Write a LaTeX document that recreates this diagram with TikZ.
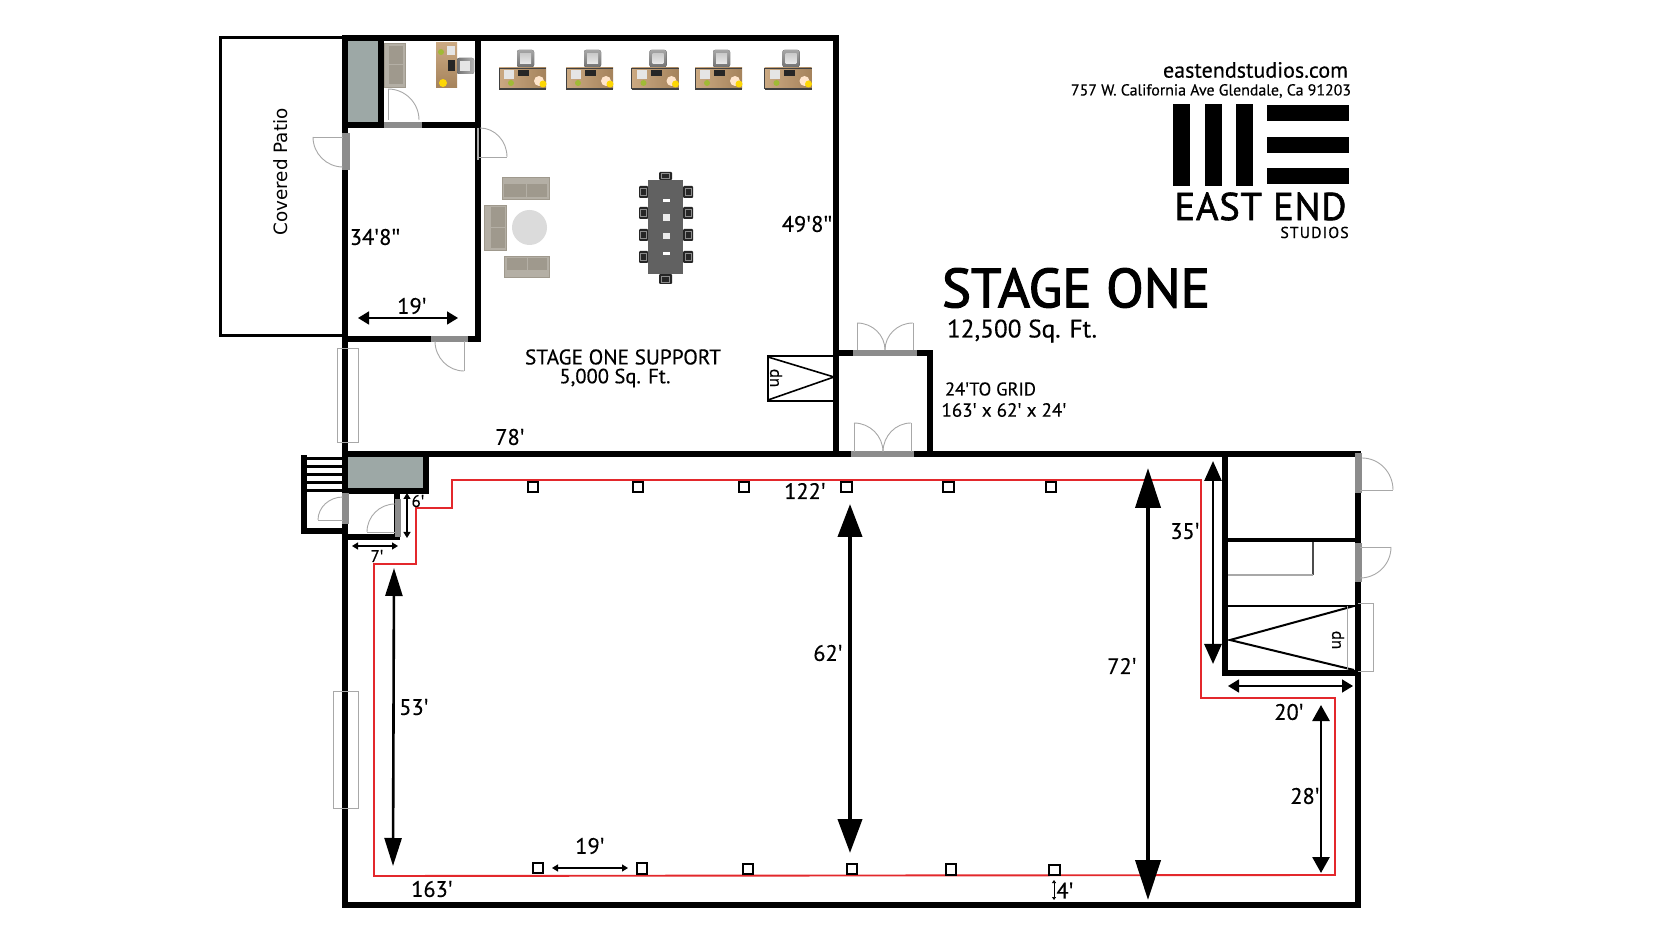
\documentclass[tikz,border=0pt]{standalone}
\usepackage{fontspec}
\usepackage{graphicx}
\setmainfont[FakeBold=0.35]{PT Sans}
\newfontfamily\patiofont{DejaVu Sans}
\newfontfamily\titlefont[FakeBold=2.2]{PT Sans}
\newfontfamily\primefont[FakeBold=0.2]{Open Sans}
\newfontfamily\logofont[LetterSpace=2,FakeBold=1.6]{PT Sans}
\newfontfamily\logosmall[LetterSpace=7,FakeBold=0.8]{PT Sans}
\newcommand\pr{{\primefont ′}}
\newcommand\ppr{{\primefont ″}}
\usetikzlibrary{calc,arrows.meta}
\definecolor{wallgrey}{HTML}{9DA8A6}
\definecolor{sillgrey}{HTML}{8C8C8C}
\definecolor{leafgrey}{HTML}{A8A8A8}
\definecolor{redline}{HTML}{E3282C}
\definecolor{deskc}{HTML}{C29A6C}
\definecolor{couchA}{HTML}{B4AFA5}
\definecolor{couchB}{HTML}{9F998D}
\newcommand\qarc[3]{\draw[doorline] (#1) .. controls ($(#1)!.552!(#3)$) and ($(#2)!.552!(#3)$) .. (#2);}
\newcommand\fitw[2]{\resizebox{\dimexpr#1pt/2\relax}{!}{#2}}
\newcommand\couch[9]{%
 \fill[couchA,draw=couchB,line width=.3pt] (#1,#2) rectangle (#3,#4);
 \fill[couchB] (#5,#6) rectangle (#7,#8);
 \draw[couchA,line width=.5pt] #9;}
\newcommand\tablechair[4]{%
 \fill[black!85,rounded corners=.5pt] (#1,#2) rectangle (#3,#4);
 \draw[black!45,line width=.4pt] ($(#1,#2)!.2!(#3,#4)$) rectangle ($(#1,#2)!.8!(#3,#4)$);}
\newcommand\deskchair[2]{%
 \fill[top color=black!35,bottom color=black!55,rounded corners=1pt] (#1,#2) rectangle ++(17,17);
 \fill[top color=black!20,bottom color=black!8] (#1+3,#2+4) rectangle ++(11,10);}
\tikzset{
 wall/.style={line width=2.6pt,line cap=rect,line join=miter},
 innerwall/.style={line width=2.2pt,line cap=rect},
 sill/.style={fill=sillgrey,draw=none},
 doorline/.style={draw=leafgrey,line width=.45pt},
 thinbox/.style={draw=leafgrey,line width=.5pt},
 stair/.style={line width=.8pt,line join=miter},
 redrun/.style={draw=redline,line width=.95pt,line join=miter},
 column/.style={draw=black,fill=white,line width=1pt,minimum size=5.2pt,inner sep=0pt},
 lbl/.style={inner sep=0pt,font=\fontsize{11.2}{12}\selectfont},
 smalllbl/.style={inner sep=0pt,font=\fontsize{8.4}{9}\selectfont},
 bigarrow/.style={line width=2pt,{Triangle[length=20pt,width=12.5pt]}-{Triangle[length=20pt,width=12.5pt]}},
 stagearrow/.style={line width=2pt,{Triangle[length=16.5pt,width=12pt]}-{Triangle[length=17pt,width=12pt]}},
 midarrow/.style={line width=1.4pt,{Triangle[length=10pt,width=8.5pt]}-{Triangle[length=10pt,width=8.5pt]}},
 lowarrow/.style={line width=1.4pt,{Triangle[length=8pt,width=8.5pt]}-{Triangle[length=8pt,width=8.5pt]}},
 dimarrow/.style={line width=.8pt,{Triangle[length=5.5pt,width=6.5pt]}-{Triangle[length=5.5pt,width=6.5pt]}},
 finearrow/.style={line width=.6pt,{Triangle[length=3pt,width=3.5pt]}-{Triangle[length=3pt,width=3.5pt]}},
 tinyarrow/.style={line width=.35pt,{Triangle[length=1.5pt,width=2pt]}-{Triangle[length=1.5pt,width=2pt]}},
 desk/.pic={
  \fill[left color=deskc!85!white,right color=deskc!85!black] (0,0) rectangle (47,21);
  \draw[black!75,line width=.4pt] (0,21) -- (0,0) -- (47,0);
  \draw[black!75,line width=.6pt] (0,21) -- (47,21);
  \fill[black!10] (5,2) rectangle (15,11);
  \fill[black!85] (19,2) rectangle (30,8);
  \fill[yellow!70!green!80!black] (12,15) circle (3);
  \fill[orange!20!white] (40,13) circle (5);
  \fill[yellow!75!orange] (44,16) circle (3.5);
  \deskchair{18}{-18}
 }
}
\begin{document}
\begin{tikzpicture}[x=0.5pt,y=-0.5pt]
\useasboundingbox (0,0) rectangle (1680,945);
\fill[white] (0,0) rectangle (1680,945);

% grey fills
\fill[wallgrey] (348,40) rectangle (379,123);
\fill[wallgrey] (348,457) rectangle (423,488);

% patio
\draw[line width=1.5pt,line join=miter] (345,38) -- (220,38) -- (220,336) -- (345,336);

% upper building
\draw[wall] (345,38) -- (836,38) -- (836,454);
\draw[wall] (345,38) -- (345,454);
\draw[wall] (381,38) -- (381,125);
\draw[wall] (345,125) -- (478,125);
\draw[wall] (478,38) -- (478,339) -- (345,339);

% vestibule
\draw[wall] (836,353) -- (930,353) -- (930,454);

% main stage
\draw[wall] (345,454) rectangle (1358,905);
\draw[wall] (1225,454) -- (1225,673) -- (1358,673);
\draw[innerwall] (1225,540) -- (1356,540);

% stage entry
\draw[wall] (426,454) -- (426,491) -- (345,491);
\draw[wall] (397,491) -- (397,537) -- (345,537);
\draw[wall] (304,458) -- (304,531) -- (345,531);
\foreach \yy in {459,467,475,483} \draw[line width=1.5pt] (304,\yy) -- (345,\yy);
\draw[line width=1.5pt] (304,491) -- (345,491);

% door sills
\fill[sill] (384,122) rectangle (422,128);
\fill[sill] (342,133) rectangle (350,170);
\draw[leafgrey,line width=1pt] (478,128) -- (478,160);
\fill[sill] (431,336) rectangle (468,342);
\fill[sill] (853,350) rectangle (917,356);
\fill[sill] (851,451) rectangle (914,457);
\fill[sill] (342,493) rectangle (349,524);
\fill[sill] (395,499) rectangle (401,537);
\fill[sill] (1355,453) rectangle (1362,493);
\fill[sill] (1355,543) rectangle (1362,582);

% door leaves
\draw[doorline] (388,120) -- (388,89); \qarc{388,89}{419,120}{419,89}
\draw[doorline] (343,137) -- (313,137); \qarc{313,137}{343,167}{313,167}
\draw[doorline] (478,157) -- (507,157); \qarc{507,157}{480,128}{507,128}
\draw[doorline] (464,341) -- (464,371); \qarc{464,371}{435,341}{435,371}
\draw[doorline] (857,350) -- (857,323); \qarc{857,323}{885,350}{885,323}
\draw[doorline] (913,350) -- (913,323); \qarc{913,323}{885,350}{885,323}
\draw[doorline] (854,452) -- (854,423); \qarc{854,423}{883,452}{883,423}
\draw[doorline] (911,452) -- (911,423); \qarc{911,423}{883,452}{883,423}
\draw[doorline] (343,520) -- (318,520); \qarc{318,520}{343,497}{318,497}
\draw[doorline] (395,532) -- (367,532); \qarc{367,532}{395,504}{367,504}
\draw[doorline] (1360,490) -- (1393,490); \qarc{1393,490}{1362,458}{1393,458}
\draw[doorline] (1360,547) -- (1391,547); \qarc{1391,547}{1360,578}{1391,578}

% windows
\draw[thinbox] (337,349) rectangle (358,443);
\draw[thinbox] (333,691) rectangle (358,808);
\draw[thinbox] (1358,604) -- (1373,604) -- (1373,671) -- (1358,671);

% upper stairs
\draw[stair] (834,356) -- (768,356) -- (768,401) -- (834,401);
\draw[stair] (768,357) -- (834,377) -- (768,400);
\node[inner sep=0pt,rotate=90,font=\fontsize{8.5}{9}\selectfont] (upA) at (776,378) {up};

% lower stair + closet
\draw[draw=black!70,line width=.7pt] (1313,542) -- (1313,575);
\draw[draw=leafgrey,line width=.7pt] (1228,575) -- (1313,575);
\draw[stair,line width=1pt] (1228,606) -- (1356,606);
\draw[stair,line width=1pt] (1354,606) -- (1230,640) -- (1354,670);
\draw[thinbox] (1347,606) -- (1347,670);
\node[inner sep=0pt,rotate=90,font=\fontsize{8.5}{9}\selectfont] (upB) at (1338,640) {up};

% red run
\draw[redrun] (374,876) -- (374,564) -- (416,564) -- (416,508) -- (452,508) -- (452,480) -- (1201,480) -- (1201,698) -- (1335,698) -- (1335,875) -- cycle;

% columns
\node[column] (ct1) at (533,487) {};
\node[column] (ct2) at (638,487) {};
\node[column] (ct3) at (744,487) {};
\node[column] (ct4) at (846.5,487) {};
\node[column] (ct5) at (948.5,487) {};
\node[column] (ct6) at (1051,487) {};
\node[column] (cb1) at (538,868) {};
\node[column] (cb2) at (642,868.5) {};
\node[column] (cb3) at (748,869) {};
\node[column] (cb4) at (852,869) {};
\node[column] (cb5) at (951,869.5) {};
\node[column] (cb6) at (1054.5,870) {};

% dimension arrows
\draw[stagearrow] (850,504) -- (850,853);
\draw[bigarrow] (1148,468) -- (1148,900);
\draw[line width=1.3pt,{Triangle[length=14pt,width=8.5pt]}-{Triangle[length=14pt,width=8.5pt]}] (394,568) -- (393,866);
\draw[midarrow] (1213,461) -- (1213,664);
\draw[lowarrow] (1321,705) -- (1321,873);
\draw[dimarrow] (1228,686) -- (1353,686);
\draw[dimarrow] (358,318) -- (458,318);
\draw[finearrow] (552,868) -- (628,868);
\draw[finearrow] (352,546) -- (398,546);
\draw[finearrow] (407,493) -- (407,538);
\draw[tinyarrow] (1054,880) -- (1054,900);

% furniture: desks
\pic at (499,68) {desk};
\pic at (566,68) {desk};
\pic at (631.5,68) {desk};
\pic at (695,68) {desk};
\pic at (764.5,68) {desk};

% office desk + couch
\fill[top color=deskc!85!white,bottom color=deskc!85!black] (436,43) rectangle (457,88);
\fill[black!10] (447,46) rectangle (455,55);
\fill[black!85] (448,60) rectangle (455,71);
\fill[yellow!70!green!80!black] (441,52) circle (3);
\fill[yellow!75!orange] (443,83) circle (4);
\fill[left color=black!55,right color=black!30,rounded corners=1pt] (457,58) rectangle (474,74);
\fill[black!10] (460,61) rectangle (470,71);
\couch{384}{43}{405}{87}{389}{46}{403}{84}{(389,65) -- (403,65)}

% lounge
\couch{502}{177}{549}{199}{504}{184}{547}{197}{(526,184) -- (526,197)}
\couch{484}{205}{506}{250}{491}{207}{505}{248}{(491,228) -- (505,228)}
\couch{504}{256}{549}{277}{507}{258}{547}{270}{(527,258) -- (527,270)}
\fill[black!14] (529.5,227.5) circle (17.5);

% conference table
\foreach \yy in {186,207,229,251} {
 \tablechair{639}{\yy}{648}{\yy+12}
 \tablechair{683}{\yy}{693}{\yy+12}
}
\tablechair{659}{172}{672}{180}
\tablechair{659}{274}{672}{284}
\fill[black!62] (648,180) rectangle (683,274);
\fill[white] (662.5,199) rectangle (669.5,202.5);
\fill[white!92!black] (662.5,214.5) rectangle (669.5,221);
\fill[white!92!black] (662.5,233) rectangle (669.5,239.5);
\fill[white] (662.5,252) rectangle (669.5,255.5);

% logo
\foreach \xx in {1173,1205,1236} \fill (\xx,104) rectangle (\xx+17,186);
\foreach \yy in {105,137,168} \fill (1267,\yy) rectangle (1349,\yy+16.5);

% texts
\node[inner sep=0pt,rotate=90] (patio) at (281,172) {\patiofont\fitw{127}{Covered Patio}};
\node[lbl] (d348) at (375,237) {34\pr8\ppr};
\node[lbl] (d19a) at (412,306) {19\pr};
\node[lbl] (d498) at (807,224) {49\pr8\ppr};
\node[inner sep=0pt] (support) at (623,357) {\fitw{196}{STAGE ONE SUPPORT}};
\node[inner sep=0pt] (sqft) at (615,378) {\fitw{111}{5,000 Sq. Ft.}};
\node[lbl] (d78) at (510,437) {78\pr};
\node[inner sep=0pt] (web) at (1255.5,70) {\fitw{185}{eastendstudios.com}};
\node[inner sep=0pt] (addr) at (1211,91) {\fitw{280}{757 W. California Ave Glendale, Ca 91203}};
\node[inner sep=0pt,font=\fontsize{19.3}{20}\logofont] (east) at (1260.5,206.5) {EAST END};
\node[inner sep=0pt,font=\fontsize{7.9}{8}\logosmall] (studios) at (1314.5,232.5) {STUDIOS};
\node[inner sep=0pt] (title) at (1076,288) {\fitw{268}{\titlefont STAGE ONE}};
\node[inner sep=0pt] (area) at (1022,331) {\fitw{150}{12,500 Sq. Ft.}};
\node[inner sep=0pt] (grid) at (990.5,389) {\fitw{91}{24\pr TO GRID}};
\node[inner sep=0pt] (size) at (1004,410) {\fitw{125}{163\pr{} x 62\pr{} x 24\pr}};
\node[lbl] (d122) at (805,491) {122\pr};
\node[lbl] (d62) at (828,653) {62\pr};
\node[lbl] (d72) at (1122,666) {72\pr};
\node[lbl] (d35) at (1185,531) {35\pr};
\node[lbl] (d53) at (414,707) {53\pr};
\node[lbl] (d20) at (1289,712) {20\pr};
\node[lbl] (d28) at (1305,796) {28\pr};
\node[lbl] (d19b) at (590,846) {19\pr};
\node[lbl] (d163) at (432,889) {163\pr};
\node[lbl] (d4) at (1065,890.5) {4\pr};
\node[smalllbl] (d6) at (418,501) {6\pr};
\node[smalllbl] (d7) at (377,556) {7\pr};
\end{tikzpicture}
\end{document}
